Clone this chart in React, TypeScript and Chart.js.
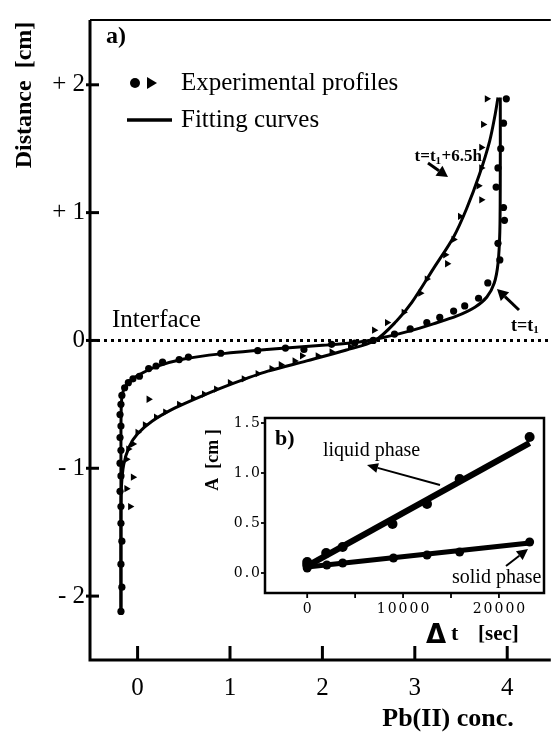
import React, { useEffect, useRef } from "react";
import { Chart, registerables } from "chart.js";
Chart.register(...registerables);

const SERIF = "'Liberation Serif', 'Times New Roman', serif";
const WSERIF = "'DejaVu Serif', serif";

// ---------- main chart (a) data ----------
const xTickValues = [0, 1, 2, 3, 4];
const yTickValues = [-2, -1, 0, 1, 2];
const yTickLabels = ["- 2", "- 1", "0", "+ 1", "+ 2"];

// fitting curve t = t1
const fitT1: [number, number][] = [
  [-0.18, -2.12], [-0.18, -1.2], [-0.18, -0.7], [-0.176, -0.5], [-0.165, -0.42],
  [-0.14, -0.37], [-0.09, -0.32], [0.0, -0.275], [0.2, -0.205], [0.5, -0.145],
  [0.9, -0.105], [1.5, -0.065], [2.0, -0.038], [2.4, -0.012], [2.7, 0.03],
  [2.95, 0.075], [3.2, 0.13], [3.45, 0.19], [3.65, 0.26], [3.78, 0.34],
  [3.86, 0.45], [3.9, 0.6], [3.92, 0.85], [3.925, 1.3], [3.925, 1.9],
];
// fitting curve t = t1 + 6.5 h
const fitT2: [number, number][] = [
  [-0.18, -2.12], [-0.18, -1.4], [-0.175, -1.15], [-0.15, -0.97], [-0.09, -0.83],
  [0.0, -0.73], [0.16, -0.63], [0.4, -0.53], [0.71, -0.43], [1.02, -0.34],
  [1.41, -0.24], [1.83, -0.16], [2.26, -0.075], [2.57, 0.0], [2.8, 0.15],
  [2.97, 0.3], [3.2, 0.56], [3.42, 0.81], [3.56, 1.03], [3.7, 1.3],
  [3.81, 1.56], [3.87, 1.77], [3.9, 1.9],
];
// experimental profile t = t1 (circles)
const expT1: [number, number][] = [
  [-0.18, -2.12], [-0.17, -1.93], [-0.18, -1.75], [-0.17, -1.57], [-0.18, -1.43],
  [-0.18, -1.3], [-0.19, -1.18], [-0.18, -1.06], [-0.19, -0.96], [-0.18, -0.86],
  [-0.19, -0.76], [-0.18, -0.67], [-0.19, -0.58], [-0.18, -0.5], [-0.17, -0.43],
  [-0.14, -0.37], [-0.1, -0.33], [-0.05, -0.3], [0.02, -0.28], [0.12, -0.22],
  [0.2, -0.2], [0.27, -0.17], [0.45, -0.15], [0.55, -0.13], [0.9, -0.1],
  [1.3, -0.08], [1.6, -0.06], [1.8, -0.07], [2.1, -0.03], [2.35, -0.02],
  [2.55, 0.0], [2.78, 0.05], [2.95, 0.09], [3.13, 0.14], [3.27, 0.18],
  [3.42, 0.23], [3.54, 0.27], [3.69, 0.33], [3.79, 0.45], [3.92, 0.63],
  [3.9, 0.76], [3.97, 0.94], [3.96, 1.04], [3.88, 1.2], [3.9, 1.35],
  [3.93, 1.5], [3.96, 1.7], [3.99, 1.89],
];
// experimental profile t = t1 + 6.5 h (triangles)
const expT2: [number, number][] = [
  [-0.08, -1.3], [-0.12, -1.16], [-0.05, -1.07], [-0.12, -0.93], [-0.1, -0.85],
  [-0.05, -0.81], [0.0, -0.72], [0.08, -0.66], [0.12, -0.46], [0.2, -0.6],
  [0.3, -0.56], [0.45, -0.5], [0.6, -0.45], [0.72, -0.42], [0.85, -0.38],
  [1.0, -0.33], [1.15, -0.3], [1.3, -0.26], [1.45, -0.22], [1.55, -0.19],
  [1.7, -0.16], [1.78, -0.12], [1.95, -0.12], [2.1, -0.09], [2.3, -0.05],
  [2.45, -0.02], [2.56, 0.08], [2.7, 0.14], [2.88, 0.22], [3.06, 0.37],
  [3.13, 0.48], [3.35, 0.6], [3.33, 0.67], [3.42, 0.79], [3.49, 0.97],
  [3.72, 1.1], [3.69, 1.21], [3.72, 1.35], [3.72, 1.51], [3.74, 1.69],
  [3.78, 1.89],
];
const interfaceLine: [number, number][] = [[-0.515, 0], [4.45, 0]];

// ---------- inset chart (b) data ----------
const insetXTickMarks = [0, 5000, 10000, 15000, 20000];
const insetXTickLabels = [0, 10000, 20000];
const insetYTicks = [0, 0.5, 1.0, 1.5];
const liquidPts: [number, number][] = [
  [0, 0.08], [0, 0.11], [1980, 0.2], [3700, 0.26], [8900, 0.49],
  [12500, 0.69], [15900, 0.94], [23200, 1.36],
];
const liquidFit: [number, number][] = [[0, 0.07], [23200, 1.3]];
const solidPts: [number, number][] = [
  [0, 0.05], [2050, 0.08], [3700, 0.1], [9000, 0.15], [12500, 0.18],
  [15900, 0.21], [23200, 0.31],
];
const solidFit: [number, number][] = [[0, 0.06], [23200, 0.3]];

const toXY = (a: [number, number][]) => a.map(([x, y]) => ({ x, y }));

function arrow(ctx: CanvasRenderingContext2D, x1: number, y1: number, x2: number, y2: number, lw: number, head: number, wide = 0.5) {
  const ang = Math.atan2(y2 - y1, x2 - x1);
  const bx = x2 - head * Math.cos(ang);
  const by = y2 - head * Math.sin(ang);
  ctx.save();
  ctx.strokeStyle = "#000";
  ctx.fillStyle = "#000";
  ctx.lineWidth = lw;
  ctx.beginPath();
  ctx.moveTo(x1, y1);
  ctx.lineTo(bx, by);
  ctx.stroke();
  ctx.beginPath();
  ctx.moveTo(x2, y2);
  ctx.lineTo(bx + head * wide * Math.sin(ang), by - head * wide * Math.cos(ang));
  ctx.lineTo(bx - head * wide * Math.sin(ang), by + head * wide * Math.cos(ang));
  ctx.closePath();
  ctx.fill();
  ctx.restore();
}

// draws "t=t1<rest>" with subscript 1, left aligned at x, middle baseline at y
function tLabel(ctx: CanvasRenderingContext2D, x: number, y: number, rest: string, size: number) {
  ctx.save();
  ctx.fillStyle = "#000";
  ctx.textBaseline = "middle";
  ctx.textAlign = "left";
  ctx.font = `bold ${size}px ${SERIF}`;
  ctx.fillText("t=t", x, y);
  let cx = x + ctx.measureText("t=t").width;
  ctx.font = `bold ${Math.round(size * 0.62)}px ${SERIF}`;
  ctx.fillText("1", cx, y + size * 0.25);
  cx += ctx.measureText("1").width + 0.5;
  ctx.font = `bold ${size}px ${SERIF}`;
  ctx.fillText(rest, cx, y);
  ctx.restore();
}

function textWidthT(ctx: CanvasRenderingContext2D, rest: string, size: number) {
  ctx.save();
  ctx.font = `bold ${size}px ${SERIF}`;
  let w = ctx.measureText("t=t").width + ctx.measureText(rest).width;
  ctx.font = `bold ${Math.round(size * 0.62)}px ${SERIF}`;
  w += ctx.measureText("1").width + 0.5;
  ctx.restore();
  return w;
}

const mainDecor = {
  id: "mainDecor",
  afterDraw(chart: any) {
    const ctx: CanvasRenderingContext2D = chart.ctx;
    const { left, right, top, bottom } = chart.chartArea;
    const xs = chart.scales.x;
    const ys = chart.scales.y;
    ctx.save();
    ctx.strokeStyle = "#000";
    ctx.fillStyle = "#000";
    // frame
    ctx.lineWidth = 3;
    ctx.beginPath();
    ctx.moveTo(right + 2, bottom);
    ctx.lineTo(left, bottom);
    ctx.lineTo(left, top);
    ctx.stroke();
    ctx.lineWidth = 2;
    ctx.beginPath();
    ctx.moveTo(left, top);
    ctx.lineTo(right + 2, top);
    ctx.stroke();
    // inward ticks
    ctx.lineWidth = 3;
    xTickValues.forEach((v) => {
      const px = xs.getPixelForValue(v);
      ctx.beginPath();
      ctx.moveTo(px, bottom);
      ctx.lineTo(px, bottom - 14);
      ctx.stroke();
    });
    yTickValues.forEach((v) => {
      const py = ys.getPixelForValue(v);
      ctx.beginPath();
      ctx.moveTo(left - 4, py);
      ctx.lineTo(left + 9, py);
      ctx.stroke();
    });
    // axis titles
    ctx.textBaseline = "middle";
    ctx.textAlign = "center";
    ctx.font = `bold 24px ${SERIF}`;
    ctx.save();
    ctx.translate(25, 95);
    ctx.rotate(-Math.PI / 2);
    ctx.fillText("Distance  [cm]", 0, 0);
    ctx.restore();
    ctx.font = `bold 26px ${SERIF}`;
    ctx.fillText("Pb(II) conc.", 448, 719);
    // panel label
    ctx.textAlign = "left";
    ctx.font = `bold 24px ${SERIF}`;
    ctx.fillText("a)", 106, 37);
    // legend
    ctx.beginPath();
    ctx.arc(135, 83, 5, 0, Math.PI * 2);
    ctx.fill();
    ctx.beginPath();
    ctx.moveTo(147, 77);
    ctx.lineTo(157, 83);
    ctx.lineTo(147, 89);
    ctx.closePath();
    ctx.fill();
    ctx.lineWidth = 3.5;
    ctx.beginPath();
    ctx.moveTo(127, 120);
    ctx.lineTo(172, 120);
    ctx.stroke();
    ctx.font = `25px ${SERIF}`;
    ctx.fillText("Experimental profiles", 181, 83);
    ctx.fillText("Fitting curves", 181, 120);
    // interface
    ctx.font = `25px ${SERIF}`;
    ctx.fillText("Interface", 112, 320);
    // curve labels
    const w = textWidthT(ctx, "+6.5h", 17);
    tLabel(ctx, 482 - w, 157, "+6.5h", 17);
    arrow(ctx, 428, 163, 448, 177, 3, 11, 0.55);
    tLabel(ctx, 511, 326, "", 18);
    arrow(ctx, 519, 310, 497, 289, 3, 11, 0.55);
    ctx.restore();
  },
};

const insetDecor = {
  id: "insetDecor",
  beforeDraw(chart: any) {
    const ctx: CanvasRenderingContext2D = chart.ctx;
    const { left, right, top, bottom } = chart.chartArea;
    ctx.save();
    ctx.fillStyle = "#fff";
    ctx.fillRect(left, top, right - left, bottom - top);
    ctx.restore();
  },
  afterDraw(chart: any) {
    const ctx: CanvasRenderingContext2D = chart.ctx;
    const { left, right, top, bottom } = chart.chartArea;
    const xs = chart.scales.x;
    const ys = chart.scales.y;
    ctx.save();
    ctx.strokeStyle = "#000";
    ctx.fillStyle = "#000";
    ctx.lineWidth = 2.5;
    ctx.strokeRect(left, top, right - left, bottom - top);
    // tick marks
    ctx.lineWidth = 1.8;
    insetXTickMarks.forEach((v) => {
      const px = xs.getPixelForValue(v);
      ctx.beginPath();
      ctx.moveTo(px, bottom);
      ctx.lineTo(px, bottom + 5);
      ctx.stroke();
    });
    insetYTicks.forEach((v) => {
      const py = ys.getPixelForValue(v);
      ctx.beginPath();
      ctx.moveTo(left - 4, py);
      ctx.lineTo(left, py);
      ctx.stroke();
    });
    // tick labels
    ctx.font = `14px ${WSERIF}`;
    (ctx as any).letterSpacing = "2px";
    ctx.textBaseline = "middle";
    ctx.textAlign = "center";
    insetXTickLabels.forEach((v) => {
      const px = xs.getPixelForValue(v);
      ctx.fillText(String(v), px + 1, bottom + 16);
    });
    ctx.textAlign = "right";
    insetYTicks.forEach((v) => {
      const py = ys.getPixelForValue(v);
      ctx.fillText(v.toFixed(1), left - 3, py);
    });
    (ctx as any).letterSpacing = "0px";
    ctx.textAlign = "left";
    ctx.font = `bold 22px ${SERIF}`;
    ctx.fillText("b)", 80, 34);
    ctx.font = `20px ${SERIF}`;
    ctx.fillText("liquid phase", 128, 46);
    ctx.fillText("solid phase", 257, 173);
    arrow(ctx, 245, 80, 172, 60, 2, 11, 0.45);
    arrow(ctx, 311, 161, 333, 144, 2, 11, 0.5);
    // y title
    ctx.save();
    ctx.translate(18, 55);
    ctx.rotate(-Math.PI / 2);
    ctx.textAlign = "center";
    ctx.font = `bold 18px ${SERIF}`;
    ctx.fillText("A  [cm ]", 0, 0);
    ctx.restore();
    // x title
    ctx.font = `bold 26px 'DejaVu Sans', sans-serif`;
    ctx.fillText("\u0394", 231, 231);
    ctx.font = `bold 22px ${SERIF}`;
    ctx.fillText("t", 256, 229);
    ctx.font = `bold 21px ${SERIF}`;
    ctx.fillText("[sec]", 283, 230);
    ctx.restore();
  },
};

export default function App() {
  const mainRef = useRef<HTMLCanvasElement>(null);
  const insetRef = useRef<HTMLCanvasElement>(null);

  useEffect(() => {
    const main = new Chart(mainRef.current!, {
      type: "scatter",
      data: {
        datasets: [
          { type: "line", data: toXY(fitT1), borderColor: "#000", borderWidth: 3, pointRadius: 0, tension: 0.3, fill: false } as any,
          { type: "line", data: toXY(fitT2), borderColor: "#000", borderWidth: 3, pointRadius: 0, tension: 0.3, fill: false } as any,
          { data: toXY(expT1), pointStyle: "circle", pointRadius: 3.6, backgroundColor: "#000", borderColor: "#000", borderWidth: 0 },
          { data: toXY(expT2), pointStyle: "triangle", rotation: 90, pointRadius: 4.2, backgroundColor: "#000", borderColor: "#000", borderWidth: 0 },
          { type: "line", data: toXY(interfaceLine), borderColor: "#000", borderWidth: 3, borderDash: [3, 4], pointRadius: 0, fill: false } as any,
        ],
      },
      options: {
        animation: false,
        responsive: false,
        maintainAspectRatio: false,
        layout: { padding: { top: 12, right: 0, left: 0, bottom: 0 } },
        plugins: { legend: { display: false }, tooltip: { enabled: false } },
        scales: {
          x: {
            type: "linear",
            min: -0.515,
            max: 4.45,
            afterFit: (s: any) => { s.height = 74; },
            grid: { display: false, drawTicks: false },
            border: { display: false },
            ticks: {
              stepSize: 1,
              includeBounds: false,
              padding: 13,
              color: "#000",
              maxRotation: 0,
              font: { family: SERIF, size: 25 },
              callback: (v: any) => (xTickValues.includes(Number(v)) ? String(v) : ""),
            },
          },
          y: {
            type: "linear",
            min: -2.5,
            max: 2.507,
            afterFit: (s: any) => { s.width = 90; },
            grid: { display: false, drawTicks: false },
            border: { display: false },
            ticks: {
              stepSize: 1,
              includeBounds: false,
              padding: 5,
              color: "#000",
              font: { family: SERIF, size: 25 },
              callback: (v: any) => {
                const i = yTickValues.indexOf(Number(v));
                return i >= 0 ? yTickLabels[i] : "";
              },
            },
          },
        },
      },
      plugins: [mainDecor],
    });

    const inset = new Chart(insetRef.current!, {
      type: "scatter",
      data: {
        datasets: [
          { type: "line", data: toXY(liquidFit), borderColor: "#000", borderWidth: 6, pointRadius: 0, fill: false } as any,
          { type: "line", data: toXY(solidFit), borderColor: "#000", borderWidth: 5, pointRadius: 0, fill: false } as any,
          { data: toXY(liquidPts), pointRadius: 5, backgroundColor: "#000", borderWidth: 0 },
          { data: toXY(solidPts), pointRadius: 4.5, backgroundColor: "#000", borderWidth: 0 },
        ],
      },
      options: {
        animation: false,
        responsive: false,
        maintainAspectRatio: false,
        layout: { padding: { top: 13, right: 9, left: 0, bottom: 0 } },
        plugins: { legend: { display: false }, tooltip: { enabled: false } },
        scales: {
          x: {
            type: "linear",
            min: -4400,
            max: 24700,
            afterFit: (s: any) => { s.height = 57; },
            grid: { display: false, drawTicks: false },
            border: { display: false },
            ticks: { display: false, stepSize: 5000 },
          },
          y: {
            type: "linear",
            min: -0.2,
            max: 1.55,
            afterFit: (s: any) => { s.width = 70; },
            grid: { display: false, drawTicks: false },
            border: { display: false },
            ticks: { display: false, stepSize: 0.5 },
          },
        },
      },
      plugins: [insetDecor],
    });

    return () => {
      main.destroy();
      inset.destroy();
    };
  }, []);

  return (
    <div style={{ position: "absolute", left: 0, top: 0, width: 553, height: 734, background: "#fff", overflow: "hidden" }}>
      <canvas ref={mainRef} width={553} height={734} style={{ position: "absolute", left: 0, top: 0 }} />
      <canvas ref={insetRef} width={358} height={245} style={{ position: "absolute", left: 195, top: 405 }} />
    </div>
  );
}
